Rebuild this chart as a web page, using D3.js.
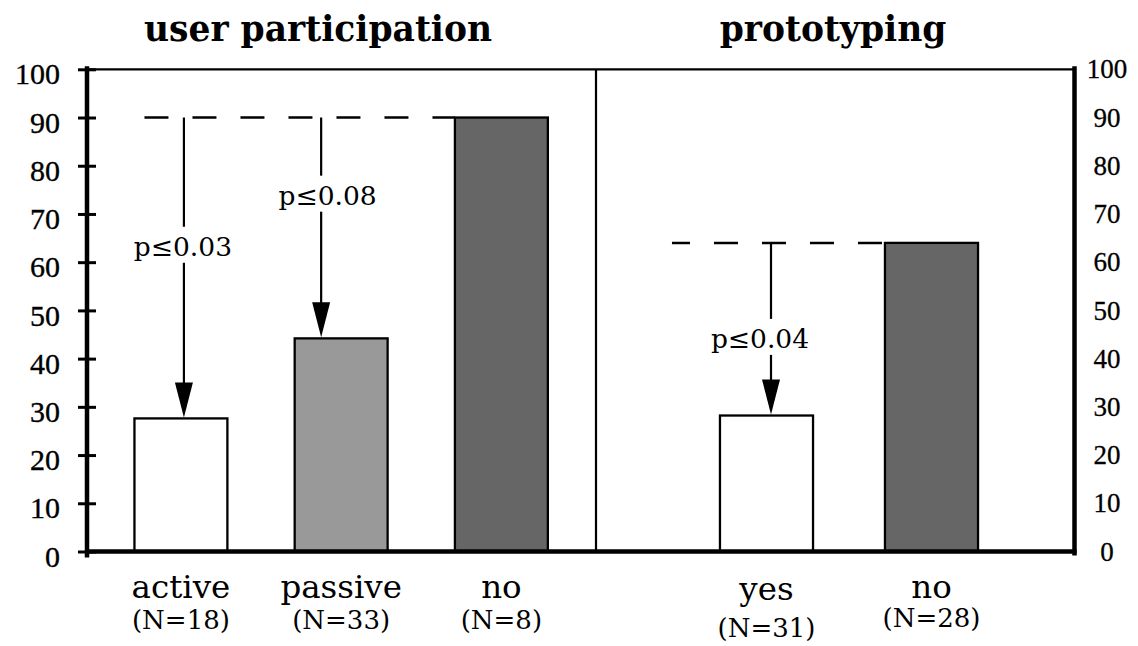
<!DOCTYPE html>
<html>
<head>
<meta charset="utf-8">
<script src="https://cdn.jsdelivr.net/npm/d3@7"></script>
<style>
  html, body { margin: 0; padding: 0; background: #fff; }
  svg { display: block; }
</style>
</head>
<body>
<svg id="chart" width="1138" height="646"></svg>
<script>
// ---------------- data ----------------
const panelTitles = ["user participation", "prototyping"];

const upCategories = ["active", "passive", "no"];
const upCounts = ["(N=18)", "(N=33)", "(N=8)"];
const upValues = [27.6, 44.2, 90];

const protoCategories = ["yes", "no"];
const protoCounts = ["(N=31)", "(N=28)"];
const protoValues = [28.2, 64];

const yTickValues = [0, 10, 20, 30, 40, 50, 60, 70, 80, 90, 100];

// significance annotations: comparison from reference bar to target bar
const upAnnotFrom = ["no", "no"];
const upAnnotTo = ["active", "passive"];
const upAnnotText = ["p\u22640.03", "p\u22640.08"];
const protoAnnotFrom = ["no"];
const protoAnnotTo = ["yes"];
const protoAnnotText = ["p\u22640.04"];

// ---------------- layout / style ----------------
const leftAxisX = 87, rightAxisX = 1074.5, dividerX = 596;
const yTop = 69.3, yBase = 551.5;
const serif = "'DejaVu Serif', serif";
const timesLike = "'Liberation Serif', 'Times New Roman', serif";
const upFills = ["#ffffff", "#999999", "#666666"];
const protoFills = ["#ffffff", "#666666"];

const svg = d3.select("#chart");

const y = d3.scaleLinear().domain([0, 100]).range([yBase, yTop]);

const xL = d3.scaleBand().domain(upCategories).range([100.8, 581.5])
  .paddingInner(0.42).paddingOuter(0.21);
const xR = d3.scaleBand().domain(protoCategories).range([684, 1014])
  .paddingInner(0.436).paddingOuter(0.218);

// ---------------- frame ----------------
svg.append("line").attr("x1", leftAxisX).attr("x2", rightAxisX)
  .attr("y1", y(100)).attr("y2", y(100))
  .attr("stroke", "#000").attr("stroke-width", 2.3);
svg.append("line").attr("x1", dividerX).attr("x2", dividerX)
  .attr("y1", y(100)).attr("y2", y(0))
  .attr("stroke", "#000").attr("stroke-width", 2.2);

// ---------------- bars ----------------
function drawBars(xs, cats, vals, fills) {
  svg.append("g").selectAll("rect").data(cats).join("rect")
    .attr("x", d => xs(d))
    .attr("width", xs.bandwidth())
    .attr("y", (d, i) => y(vals[i]))
    .attr("height", (d, i) => y(0) - y(vals[i]))
    .attr("fill", (d, i) => fills[i])
    .attr("stroke", "#000").attr("stroke-width", 2.3);
}
drawBars(xL, upCategories, upValues, upFills);
drawBars(xR, protoCategories, protoValues, protoFills);

// ---------------- axes ----------------
const leftAxis = d3.axisLeft(y).tickValues(yTickValues).tickSize(9).tickPadding(18);
const gL = svg.append("g").attr("transform", `translate(${leftAxisX},0)`).call(leftAxis);
gL.attr("font-family", null).attr("font-size", null);
gL.select(".domain").remove();
gL.selectAll(".tick line").attr("x1", -9).attr("x2", 9)
  .attr("stroke", "#000").attr("stroke-width", 3);
gL.selectAll(".tick text")
  .attr("x", -27).attr("dy", "0.32em")
  .attr("transform", "translate(0,5)")
  .attr("font-family", timesLike).attr("font-size", 30)
  .attr("fill", "#000").attr("stroke", "#000").attr("stroke-width", 0.35);
svg.append("line").attr("x1", leftAxisX).attr("x2", leftAxisX)
  .attr("y1", y(100) - 3).attr("y2", y(0) + 6)
  .attr("stroke", "#000").attr("stroke-width", 4.5);

const rightAxis = d3.axisRight(y).tickValues(yTickValues).tickSize(0);
const gR = svg.append("g").attr("transform", `translate(${rightAxisX},0)`).call(rightAxis);
gR.attr("font-family", null).attr("font-size", null);
gR.select(".domain").remove();
gR.selectAll(".tick text")
  .attr("x", 32.5).attr("dy", "0.32em").attr("text-anchor", "middle")
  .attr("font-family", timesLike).attr("font-size", 27)
  .attr("fill", "#000").attr("stroke", "#000").attr("stroke-width", 0.3);
svg.append("line").attr("x1", rightAxisX).attr("x2", rightAxisX)
  .attr("y1", y(100) - 3).attr("y2", y(0) + 4)
  .attr("stroke", "#000").attr("stroke-width", 4.5);

// baseline
svg.append("line").attr("x1", leftAxisX).attr("x2", rightAxisX + 2)
  .attr("y1", y(0)).attr("y2", y(0))
  .attr("stroke", "#000").attr("stroke-width", 4.5);

// ---------------- category labels ----------------
function drawCats(xs, cats, counts, nameShift, countShift) {
  const g = svg.append("g");
  g.selectAll("text.cat").data(cats).join("text").attr("class", "cat")
    .attr("x", d => xs(d) + xs.bandwidth() / 2)
    .attr("y", (d, i) => 598 + nameShift[i])
    .attr("text-anchor", "middle")
    .style("font-family", serif).style("font-size", "32.5px")
    .text(d => d);
  g.selectAll("text.cnt").data(counts).join("text").attr("class", "cnt")
    .attr("x", (d, i) => xs(cats[i]) + xs.bandwidth() / 2)
    .attr("y", (d, i) => 629 + countShift[i])
    .attr("text-anchor", "middle")
    .style("font-family", serif).style("font-size", "26px")
    .text(d => d);
}
drawCats(xL, upCategories, upCounts, [0, 0, 0], [0, 0, 0]);
drawCats(xR, protoCategories, protoCounts, [2, 0], [8, -2]);

// ---------------- titles ----------------
svg.append("text").attr("x", 318).attr("y", 41).attr("text-anchor", "middle")
  .style("font-family", serif).style("font-weight", "bold").style("font-size", "34.5px")
  .text(panelTitles[0]);
svg.append("text").attr("x", 833).attr("y", 41).attr("text-anchor", "middle")
  .style("font-family", serif).style("font-weight", "bold").style("font-size", "34.5px")
  .text(panelTitles[1]);

// ---------------- annotations ----------------
const upAnnotLayout = [
  { arrowDx: 3, labelDx: -1, labelAt: 63.4 },
  { arrowDx: -20, labelDx: 6.5, labelAt: 74 }
];
const protoAnnotLayout = [
  { arrowDx: 4.5, labelDx: -11, labelAt: 44.3 }
];

function drawDashed(xs, cats, vals, fromCat, startX, offset) {
  const refV = vals[cats.indexOf(fromCat)];
  svg.append("line")
    .attr("x1", startX).attr("x2", xs(fromCat))
    .attr("y1", y(refV)).attr("y2", y(refV))
    .attr("stroke", "#000").attr("stroke-width", 2.5)
    .attr("stroke-dasharray", "24 24").attr("stroke-dashoffset", offset);
}
drawDashed(xL, upCategories, upValues, "no", xL("active") + 10, 0);
drawDashed(xR, protoCategories, protoValues, "no", xR("yes") - 48, 6);

function drawArrows(xs, cats, vals, froms, tos, texts, layout) {
  froms.forEach((f, i) => {
    const refV = vals[cats.indexOf(f)];
    const tgtV = vals[cats.indexOf(tos[i])];
    const L = layout[i];
    const ax = xs(tos[i]) + xs.bandwidth() / 2 + L.arrowDx;
    const tipY = y(tgtV) - 1;
    const headLen = 35, headHalf = 9;
    const labY = y(L.labelAt);
    svg.append("line").attr("x1", ax).attr("x2", ax)
      .attr("y1", y(refV)).attr("y2", labY - 19)
      .attr("stroke", "#000").attr("stroke-width", 2.2);
    svg.append("line").attr("x1", ax).attr("x2", ax)
      .attr("y1", labY + 17).attr("y2", tipY - headLen + 1)
      .attr("stroke", "#000").attr("stroke-width", 2.2);
    svg.append("path")
      .attr("d", d3.line()([[ax - headHalf, tipY - headLen], [ax + headHalf, tipY - headLen], [ax, tipY]]) + "Z")
      .attr("fill", "#000");
    svg.append("text")
      .attr("x", ax + L.labelDx).attr("y", labY + 10.5)
      .attr("text-anchor", "middle")
      .style("font-family", serif).style("font-size", "26.5px")
      .text(texts[i]);
  });
}
drawArrows(xL, upCategories, upValues, upAnnotFrom, upAnnotTo, upAnnotText, upAnnotLayout);
drawArrows(xR, protoCategories, protoValues, protoAnnotFrom, protoAnnotTo, protoAnnotText, protoAnnotLayout);
</script>
</body>
</html>
